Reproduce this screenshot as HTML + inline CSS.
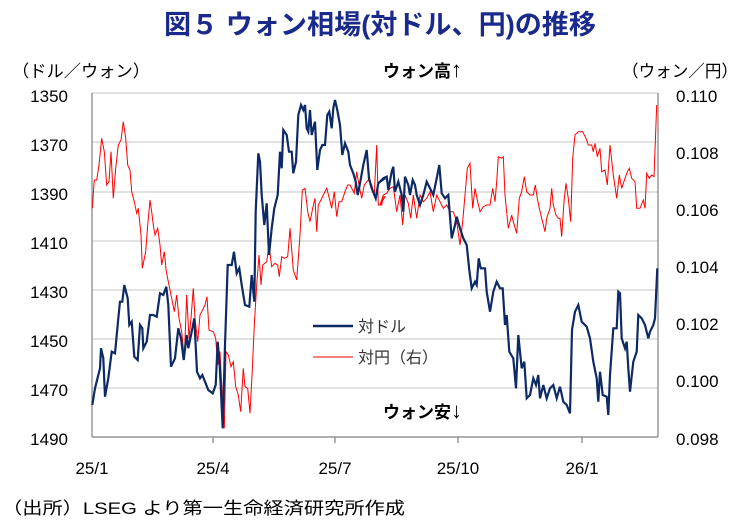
<!DOCTYPE html>
<html><head><meta charset="utf-8"><style>
body{margin:0;background:#fff;width:743px;height:520px;overflow:hidden;font-family:"Liberation Sans","Noto Sans CJK JP",sans-serif}
</style></head><body>
<svg id="s" width="743" height="520" xmlns="http://www.w3.org/2000/svg" font-family="Liberation Sans, Noto Sans CJK JP, sans-serif">
<text x="380" y="34" text-anchor="middle" font-size="27" font-weight="bold" fill="#1a2a8c" textLength="432" lengthAdjust="spacingAndGlyphs">図５ ウォン相場(対ドル、円)の推移</text>
<text x="12" y="77" font-size="17" fill="#000" textLength="138" lengthAdjust="spacingAndGlyphs">（ドル／ウォン）</text>
<text x="383" y="77" font-size="17" font-weight="bold" fill="#000">ウォン高<tspan font-size="22">↑</tspan></text>
<text x="622" y="77" font-size="17" fill="#000" textLength="116" lengthAdjust="spacingAndGlyphs">（ウォン／円）</text>
<g stroke="#d9d9d9" stroke-width="1.5">
<line x1="92" x2="658" y1="93" y2="93"/><line x1="92" x2="658" y1="142" y2="142"/><line x1="92" x2="658" y1="192" y2="192"/><line x1="92" x2="658" y1="241" y2="241"/><line x1="92" x2="658" y1="290" y2="290"/><line x1="92" x2="658" y1="339" y2="339"/><line x1="92" x2="658" y1="388" y2="388"/>
</g>
<g stroke="#808080" stroke-width="1.2" fill="none">
<line x1="92" y1="93" x2="92" y2="437"/><line x1="658" y1="93" x2="658" y2="437"/><line x1="92" y1="437" x2="658" y2="437"/>
<line x1="213" y1="437" x2="213" y2="443"/><line x1="335" y1="437" x2="335" y2="443"/><line x1="458" y1="437" x2="458" y2="443"/><line x1="582" y1="437" x2="582" y2="443"/>
</g>
<g font-size="17" fill="#000" text-anchor="end">
<text x="68" y="102">1350</text><text x="68" y="151">1370</text><text x="68" y="200">1390</text><text x="68" y="249">1410</text><text x="68" y="298">1430</text><text x="68" y="347">1450</text><text x="68" y="396">1470</text><text x="68" y="445">1490</text>
</g>
<g font-size="17" fill="#000">
<text x="676" y="102">0.110</text><text x="676" y="159">0.108</text><text x="676" y="216">0.106</text><text x="676" y="273">0.104</text><text x="676" y="330">0.102</text><text x="676" y="387">0.100</text><text x="676" y="445">0.098</text>
</g>
<g font-size="17" fill="#000" text-anchor="middle">
<text x="92" y="474">25/1</text><text x="213" y="474">25/4</text><text x="335" y="474">25/7</text><text x="458" y="474">25/10</text><text x="582" y="474">26/1</text>
</g>
<line x1="313" y1="326" x2="353" y2="326" stroke="#0d2a66" stroke-width="2.5"/>
<text x="358" y="332" font-size="16" fill="#333">対ドル</text>
<line x1="313" y1="357" x2="353" y2="357" stroke="#ff0000" stroke-width="1"/>
<text x="358" y="363" font-size="16" fill="#333">対円（右）</text>
<text x="383" y="418" font-size="17" font-weight="bold" fill="#000">ウォン安<tspan font-size="22">↓</tspan></text>
<text x="2" y="514" font-size="17" fill="#000" textLength="403" lengthAdjust="spacingAndGlyphs">（出所）LSEG より第一生命経済研究所作成</text>
<polyline id="red" fill="none" stroke="#ff0000" stroke-width="1"/>
<polyline id="blue" fill="none" stroke="#0d2a66" stroke-width="2.2"/>
</svg>
<script>
var b1=[22,960,30,910,45,850,48,790,55,820,60,935,70,880,80,800,90,805,100,700,105,650,112,650,118,600,128,640,133,720,140,710,148,815,158,825,165,720,172,730,175,790,185,770,195,690,205,690,215,695,225,625,235,630,244,605,250,660,258,845,270,820,280,730,288,760,296,825,305,750,310,790,320,740,328,700,336,860,345,880,352,870,360,890,370,915,383,925,392,900,398,770,404,840,413,1030,420,780,428,540,440,540,447,500,455,565,463,550,470,600,480,660,493,665,500,570,508,650,512,380,520,205,525,230,530,330,538,420,545,355,552,510,560,430,568,370,578,330,585,200,590,250,595,135,605,150,612,200,620,200,625,265,633,230,640,90,648,60,655,75,660,60,665,130,670,140,675,75,680,150,690,110,697,255,705,195,712,180,720,180,727,90,733,80,740,130,745,70,750,45,757,75,765,120,772,210,780,175,790,200,795,240,805,265,812,290,818,330,825,295,835,240,845,195,852,280,860,310,872,340,880,295,890,285,900,280];
var b2=[0,290,10,280,20,275,25,315,35,260,40,245,45,320,55,290,65,330,70,380,75,275,85,300,90,330,98,285,105,300,110,330,120,360,130,330,140,290,150,310,160,330,170,280,178,240,185,325,195,340,205,330,215,460,225,420,230,395,240,430,250,460,260,480,268,555,275,610,285,590,290,600,296,520,302,550,315,550,320,620,330,680,340,620,350,590,360,610,368,610,375,720,380,690,388,800,400,820,408,910,415,750,425,850,433,830,440,940,450,930,460,880,468,900,475,870,480,940,490,900,500,940,510,910,520,900,530,940,540,905,550,950,560,960,570,985,576,735,585,680,595,660,605,710,620,725,630,760,640,830,650,880,655,950,660,860,668,930,680,935,685,990,690,870,700,730,710,730,715,620,720,625,725,760,735,790,740,770,745,850,750,920,760,830,770,800,775,690,785,700,795,720,805,760,810,740,820,720,825,700,832,550];
var r1=[22,370,28,285,35,285,42,240,50,160,58,200,65,300,72,290,78,200,85,340,92,250,100,180,108,165,115,110,122,160,128,240,135,255,140,320,148,350,155,385,160,370,168,450,172,550,182,500,188,420,195,345,200,380,205,420,210,450,218,430,225,480,230,540,238,500,244,560,252,600,260,640,268,680,275,630,282,700,290,740,298,820,305,630,312,760,318,700,325,610,330,700,338,770,345,690,350,680,360,660,366,635,372,735,385,740,392,760,398,840,405,800,412,930,418,1030,423,800,430,810,438,845,445,830,452,905,460,930,467,980,475,850,480,905,488,910,495,985,502,855,508,720,515,600,522,510,528,600,533,540,545,530,552,480,560,545,570,535,578,540,583,575,590,515,598,520,608,515,615,430,625,555,635,585,645,450,652,315,660,310,668,380,675,410,683,370,690,340,695,440,700,360,708,345,715,330,725,310,733,340,740,370,748,320,755,395,762,350,770,350,780,320,788,300,795,300,808,325,815,260,822,300,830,340,838,300,850,285,860,300,868,330,875,180,880,360,890,360,895,335,900,335];
var r2=[0,360,10,330,20,325,30,310,40,305,50,380,60,330,68,420,75,330,85,355,92,400,100,330,110,400,120,330,130,350,140,340,150,320,160,380,170,330,180,350,190,370,200,360,210,380,220,380,230,410,240,480,248,410,255,330,262,250,270,235,278,370,285,310,292,345,300,380,310,365,320,360,330,360,338,310,345,350,350,290,355,215,365,220,370,215,375,330,385,430,395,390,400,410,410,445,418,340,425,320,433,275,440,320,450,330,460,330,466,300,472,340,478,370,485,400,495,440,500,400,510,370,515,310,520,360,528,390,535,400,540,400,545,455,552,350,558,295,565,340,572,410,578,220,585,150,595,140,608,140,618,160,625,180,635,180,640,200,645,175,652,215,660,190,665,260,675,255,682,300,690,180,700,270,710,340,718,270,725,310,740,265,748,250,755,280,765,290,770,370,780,370,790,345,795,370,800,265,808,280,815,270,822,275,830,60];
function conv(a,ox){var o=[];for(var i=0;i<a.length;i+=2)o.push((a[i]/3+ox).toFixed(1)+","+(a[i+1]/3+85).toFixed(1));return o;}
document.getElementById("blue").setAttribute("points",conv(b1,85).concat(conv(b2,380)).join(" "));
document.getElementById("red").setAttribute("points",conv(r1,85).concat(conv(r2,380)).join(" "));
</script>
</body></html>
